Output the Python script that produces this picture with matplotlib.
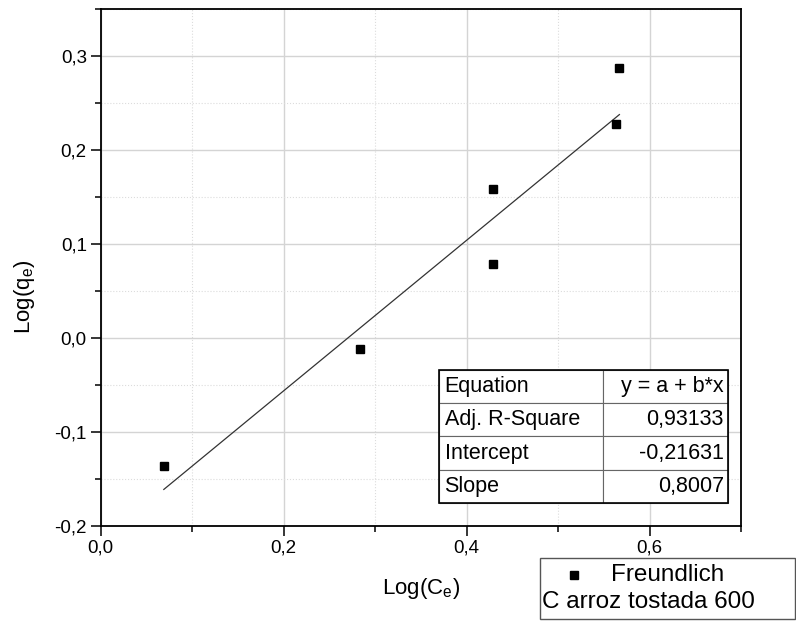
import numpy as np
import matplotlib.pyplot as plt
from matplotlib.ticker import MultipleLocator, FuncFormatter
from matplotlib.patches import Rectangle
from matplotlib.lines import Line2D

plt.rcParams['font.family'] = ['Liberation Sans', 'DejaVu Sans']

# Freundlich data
log_ce = [0.069, 0.283, 0.429, 0.429, 0.563, 0.567]
log_qe = [-0.136, -0.012, 0.079, 0.159, 0.228, 0.287]

# linear fit results (as printed in the table)
intercept = -0.21631
slope = 0.8007
table_rows = [["Equation", "y = a + b*x"],
              ["Adj. R-Square", "0,93133"],
              ["Intercept", "-0,21631"],
              ["Slope", "0,8007"]]

fig = plt.figure(figsize=(7.96, 6.24), dpi=100)
ax = fig.add_axes([0.1265, 0.157, 0.8045, 0.8286])

ax.plot(log_ce, log_qe, 's', color='black', markersize=6, zorder=3)
xf = np.array([min(log_ce), max(log_ce)])
ax.plot(xf, intercept + slope * xf, color='#333333', lw=0.9, zorder=2)

ax.set_xlim(0, 0.7)
ax.set_ylim(-0.2, 0.35)
ax.xaxis.set_major_locator(MultipleLocator(0.2))
ax.xaxis.set_minor_locator(MultipleLocator(0.1))
ax.yaxis.set_major_locator(MultipleLocator(0.1))
ax.yaxis.set_minor_locator(MultipleLocator(0.05))
comma = FuncFormatter(lambda v, p: f"{v:.1f}".replace('.', ','))
ax.xaxis.set_major_formatter(comma)
ax.yaxis.set_major_formatter(comma)

ax.grid(True, which='major', color='#d4d4d4', lw=1.0, ls='-')
ax.grid(True, which='minor', color='#dcdcdc', lw=0.8, ls=':')
ax.set_axisbelow(True)

ax.tick_params(which='major', direction='out', length=7, width=1.1, labelsize=13.5, pad=3)
ax.tick_params(which='minor', direction='out', length=4.5, width=1.1)
for s in ax.spines.values():
    s.set_linewidth(1.3)
    s.set_color('black')

ax.set_xlabel('Log(C$_\\mathregular{e}$)', fontsize=16)
ax.set_ylabel('Log(q$_\\mathregular{e}$)', fontsize=16)
ax.xaxis.set_label_coords(0.5, -0.096)
ax.yaxis.set_label_coords(-0.1, 0.443)

tbl = ax.table(cellText=table_rows, bbox=[0.528, 0.0445, 0.452, 0.2575],
               colWidths=[0.567, 0.433], zorder=4)
tbl.auto_set_font_size(False)
for (r, c), cell in tbl.get_celld().items():
    cell.set_edgecolor('#666666')
    cell.set_linewidth(0.8)
    cell.set_facecolor('white')
    cell.get_text().set_fontsize(15.5)
    cell.set_text_props(ha='left' if c == 0 else 'right')
    cell.PAD = 0.035
ax.add_patch(Rectangle((0.528, 0.0445), 0.452, 0.2575, transform=ax.transAxes,
                       fill=False, ec='black', lw=1.2, zorder=5))

# legend box below the plot
fig.patches.append(Rectangle((0.678, 0.008), 0.321, 0.098, transform=fig.transFigure,
                             fill=False, ec='#555555', lw=1.0))
fig.lines.append(Line2D([0.721], [0.0785], marker='s', color='black', markersize=6,
                        transform=fig.transFigure))
fig.text(0.7676, 0.0785, 'Freundlich', fontsize=17.5, va='center', ha='left')
fig.text(0.681, 0.035, 'C arroz tostada 600', fontsize=17.5, va='center', ha='left')

fig.savefig('out.png', dpi=100)
